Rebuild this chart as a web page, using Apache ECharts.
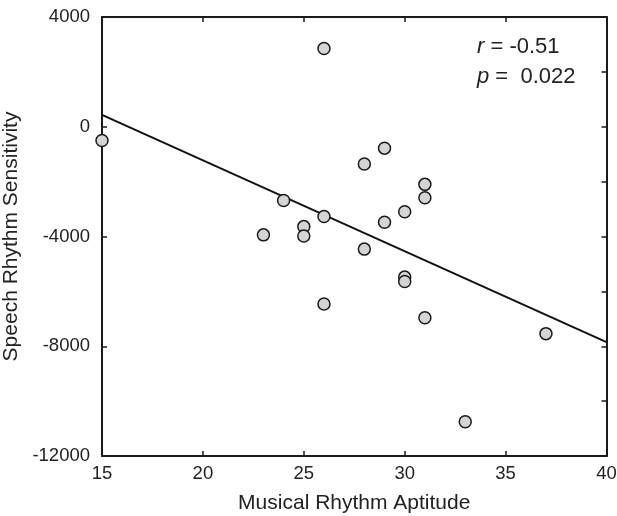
<!DOCTYPE html>
<html>
<head>
<meta charset="utf-8">
<script src="https://cdn.jsdelivr.net/npm/echarts@6/dist/echarts.min.js"></script>
<style>html,body{margin:0;padding:0;background:#fff;}#c{width:617px;height:516px;}</style>
</head>
<body>
<div id="c"></div>
<script>
const musicalAptitude = [15, 26, 24, 26, 23, 25, 25, 28, 29, 31, 31, 30, 29, 28, 30, 30, 26, 31, 37, 33];
const speechSensitivity = [-500, 2850, -2690, -3270, -3940, -3640, -3980, -1360, -780, -2100, -2590, -3100, -3480, -4460, -5480, -5640, -6460, -6960, -7540, -10750];
const fitX = [15, 40];
const fitY = [430, -7850];
const xTicks = [15, 20, 25, 30, 35, 40];
const yTicks = [-12000, -8000, -4000, 0, 4000];
const statR = '-0.51';
const statP = ' 0.022';

const FONT = "'Liberation Sans', Arial, Helvetica, sans-serif";
const axisColor = '#1a1a1a';

const chart = echarts.init(document.getElementById('c'), null, {renderer: 'canvas'});
const points = musicalAptitude.map((x, i) => [x, speechSensitivity[i]]);
const fitLine = fitX.map((x, i) => [x, fitY[i]]);

const axisLineStyle = {show: true, onZero: false, lineStyle: {color: axisColor, width: 2}};
const tickStyle = {show: true, inside: true, length: 5, lineStyle: {color: axisColor, width: 1.5}};
const plain = v => String(v);

chart.setOption({
  animation: false,
  backgroundColor: '#fff',
  grid: {left: 102, right: 10.5, top: 17, bottom: 60, containLabel: false, outerBoundsMode: 'none'},
  xAxis: [
    {
      type: 'value', position: 'bottom', min: xTicks[0], max: xTicks[xTicks.length - 1], interval: 5,
      name: 'Musical Rhythm Aptitude', nameLocation: 'middle', nameGap: 37,
      nameTextStyle: {fontFamily: FONT, fontSize: 21, color: '#222'},
      axisLine: axisLineStyle, axisTick: tickStyle,
      axisLabel: {fontFamily: FONT, fontSize: 18.5, color: '#222', margin: 8, formatter: plain},
      splitLine: {show: false}
    },
    {
      type: 'value', position: 'top', min: xTicks[0], max: xTicks[xTicks.length - 1], interval: 5,
      axisLine: axisLineStyle, axisTick: tickStyle, axisLabel: {show: false}, splitLine: {show: false}
    }
  ],
  yAxis: [
    {
      type: 'value', position: 'left', min: yTicks[0], max: yTicks[yTicks.length - 1], interval: 4000,
      name: 'Speech Rhythm Sensitivity', nameLocation: 'middle', nameGap: 71,
      nameTextStyle: {fontFamily: FONT, fontSize: 21, color: '#222'},
      axisLine: axisLineStyle, axisTick: tickStyle,
      axisLabel: {fontFamily: FONT, fontSize: 18.5, color: '#222', margin: 12, formatter: plain},
      splitLine: {show: false}
    },
    {
      type: 'value', position: 'right', min: yTicks[0], max: yTicks[yTicks.length - 1], interval: 2000,
      axisLine: axisLineStyle, axisTick: tickStyle, axisLabel: {show: false}, splitLine: {show: false}
    }
  ],
  series: [
    {
      type: 'line', data: fitLine, xAxisIndex: 0, yAxisIndex: 0,
      symbol: 'none', lineStyle: {color: '#111', width: 2}, z: 2, silent: true
    },
    {
      type: 'scatter', data: points, xAxisIndex: 0, yAxisIndex: 0,
      symbol: 'circle', symbolSize: 12, clip: false,
      itemStyle: {color: '#d4d4d4', borderColor: '#1a1a1a', borderWidth: 1.5, opacity: 1},
      z: 3
    }
  ],
  graphic: [
    {
      type: 'text', left: 477, top: 36,
      style: {
        text: '{i|r} = ' + statR,
        font: '22px ' + FONT, fill: '#222',
        rich: {i: {fontStyle: 'italic', fontFamily: FONT, fontSize: 22, fill: '#222'}}
      }
    },
    {
      type: 'text', left: 477, top: 66,
      style: {
        text: '{i|p} = ' + statP,
        font: '22px ' + FONT, fill: '#222',
        rich: {i: {fontStyle: 'italic', fontFamily: FONT, fontSize: 22, fill: '#222'}}
      }
    }
  ]
});
</script>
</body>
</html>
